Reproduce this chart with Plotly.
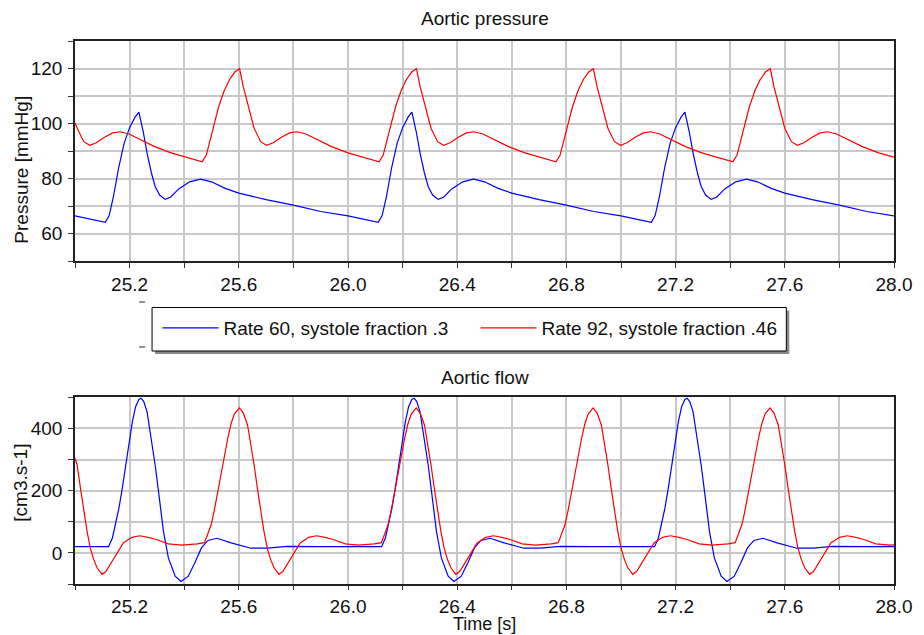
import plotly.graph_objects as go

# ---------------- data ----------------
series_names = ["Rate 60, systole fraction .3", "Rate 92, systole fraction .46"]

# Aortic pressure, rate 60 [mmHg]
p60_t = [25.000, 25.050, 25.111, 25.125, 25.140, 25.160, 25.180, 25.200, 25.220, 25.234,
         25.250, 25.264, 25.280, 25.294, 25.310, 25.330, 25.350, 25.380, 25.420, 25.460,
         25.500, 25.550, 25.600, 25.650, 25.700, 25.800, 25.900,
         26.000, 26.050, 26.111, 26.125, 26.140, 26.160, 26.180, 26.200, 26.220, 26.234,
         26.250, 26.264, 26.280, 26.294, 26.310, 26.330, 26.350, 26.380, 26.420, 26.460,
         26.500, 26.550, 26.600, 26.650, 26.700, 26.800, 26.900,
         27.000, 27.050, 27.111, 27.125, 27.140, 27.160, 27.180, 27.200, 27.220, 27.234,
         27.250, 27.264, 27.280, 27.294, 27.310, 27.330, 27.350, 27.380, 27.420, 27.460,
         27.500, 27.550, 27.600, 27.650, 27.700, 27.800, 27.900, 28.000]
p60_v = [66.4, 65.3, 64.1, 66.5, 73.0, 84.0, 92.8, 98.5, 102.3, 104.1,
         97.0, 89.2, 82.0, 77.0, 74.0, 72.4, 73.2, 76.2, 78.8, 79.8,
         78.8, 76.4, 74.7, 73.5, 72.3, 70.3, 68.0,
         66.4, 65.3, 64.1, 66.5, 73.0, 84.0, 92.8, 98.5, 102.3, 104.1,
         97.0, 89.2, 82.0, 77.0, 74.0, 72.4, 73.2, 76.2, 78.8, 79.8,
         78.8, 76.4, 74.7, 73.5, 72.3, 70.3, 68.0,
         66.4, 65.3, 64.1, 66.5, 73.0, 84.0, 92.8, 98.5, 102.3, 104.1,
         97.0, 89.2, 82.0, 77.0, 74.0, 72.4, 73.2, 76.2, 78.8, 79.8,
         78.8, 76.4, 74.7, 73.5, 72.3, 70.3, 68.0, 66.4]

# Aortic pressure, rate 92 [mmHg]
p92_t = [25.000, 25.008, 25.032, 25.054, 25.078, 25.108, 25.138, 25.165, 25.198, 25.238,
         25.292, 25.352, 25.418,
         25.466, 25.481, 25.496, 25.511, 25.526, 25.546, 25.566, 25.586, 25.603, 25.616,
         25.632, 25.646, 25.656, 25.680, 25.702, 25.726, 25.756, 25.786, 25.813, 25.846,
         25.886, 25.940, 26.000, 26.066,
         26.114, 26.129, 26.144, 26.159, 26.174, 26.194, 26.214, 26.234, 26.251, 26.264,
         26.280, 26.294, 26.304, 26.328, 26.350, 26.374, 26.404, 26.434, 26.461, 26.494,
         26.534, 26.588, 26.648, 26.714,
         26.762, 26.777, 26.792, 26.807, 26.822, 26.842, 26.862, 26.882, 26.899, 26.912,
         26.928, 26.942, 26.952, 26.976, 26.998, 27.022, 27.052, 27.082, 27.109, 27.142,
         27.182, 27.236, 27.296, 27.362,
         27.410, 27.425, 27.440, 27.455, 27.470, 27.490, 27.510, 27.530, 27.547, 27.560,
         27.576, 27.590, 27.600, 27.624, 27.646, 27.670, 27.700, 27.730, 27.757, 27.790,
         27.830, 27.884, 27.944, 28.000]
p92_v = [100.3, 98.3, 93.4, 92.1, 93.0, 95.0, 96.6, 97.0, 96.2, 94.3,
         91.6, 89.3, 87.6,
         86.1, 88.5, 94.0, 100.0, 106.0, 111.8, 116.0, 118.8, 119.9, 113.5,
         107.4, 101.5, 98.3, 93.4, 92.1, 93.0, 95.0, 96.6, 97.0, 96.2,
         94.3, 91.6, 89.3, 87.6,
         86.1, 88.5, 94.0, 100.0, 106.0, 111.8, 116.0, 118.8, 119.9, 113.5,
         107.4, 101.5, 98.3, 93.4, 92.1, 93.0, 95.0, 96.6, 97.0, 96.2,
         94.3, 91.6, 89.3, 87.6,
         86.1, 88.5, 94.0, 100.0, 106.0, 111.8, 116.0, 118.8, 119.9, 113.5,
         107.4, 101.5, 98.3, 93.4, 92.1, 93.0, 95.0, 96.6, 97.0, 96.2,
         94.3, 91.6, 89.3, 87.6,
         86.1, 88.5, 94.0, 100.0, 106.0, 111.8, 116.0, 118.8, 119.9, 113.5,
         107.4, 101.5, 98.3, 93.4, 92.1, 93.0, 95.0, 96.6, 97.0, 96.2,
         94.3, 91.6, 89.3, 87.8]

# Aortic flow, rate 60 [cm3/s]
q60_t = [25.000, 25.123, 25.137, 25.150, 25.161, 25.174, 25.186, 25.198, 25.210, 25.222,
         25.234, 25.242, 25.252, 25.264, 25.282, 25.294, 25.306, 25.324, 25.342, 25.367,
         25.388, 25.415, 25.439, 25.463, 25.487, 25.520, 25.572, 25.644, 25.705, 25.777, 25.900,
         26.000, 26.123, 26.137, 26.150, 26.161, 26.174, 26.186, 26.198, 26.210, 26.222,
         26.234, 26.242, 26.252, 26.264, 26.282, 26.294, 26.306, 26.324, 26.342, 26.367,
         26.388, 26.415, 26.439, 26.463, 26.487, 26.520, 26.572, 26.644, 26.705, 26.777, 26.900,
         27.000, 27.123, 27.137, 27.150, 27.161, 27.174, 27.186, 27.198, 27.210, 27.222,
         27.234, 27.242, 27.252, 27.264, 27.282, 27.294, 27.306, 27.324, 27.342, 27.367,
         27.388, 27.415, 27.439, 27.463, 27.487, 27.520, 27.572, 27.644, 27.705, 27.777, 27.900,
         28.000]
q60_v = [20, 20, 48, 95, 144, 212, 283, 355, 421, 470,
         493, 497, 486, 453, 357, 280, 197, 69, -16, -75,
         -92, -75, -32, 16, 40, 47, 32, 15, 15, 21, 20,
         20, 20, 48, 95, 144, 212, 283, 355, 421, 470,
         493, 497, 486, 453, 357, 280, 197, 69, -16, -75,
         -92, -75, -32, 16, 40, 47, 32, 15, 15, 21, 20,
         20, 20, 48, 95, 144, 212, 283, 355, 421, 470,
         493, 497, 486, 453, 357, 280, 197, 69, -16, -75,
         -92, -75, -32, 16, 40, 47, 32, 15, 15, 21, 20,
         20]

# Aortic flow, rate 92 [cm3/s]
q92_t = [25.000, 25.008, 25.020, 25.032, 25.044, 25.056, 25.068, 25.081, 25.099, 25.113,
         25.129, 25.153, 25.177, 25.208, 25.237, 25.268, 25.298, 25.342, 25.390, 25.448,
         25.466, 25.474, 25.486, 25.499, 25.511, 25.523, 25.536, 25.548, 25.560, 25.572,
         25.584, 25.602, 25.616, 25.632, 25.644, 25.656, 25.668, 25.680, 25.692, 25.704,
         25.716, 25.729, 25.747, 25.761, 25.777, 25.801, 25.825, 25.856, 25.885, 25.916,
         25.946, 25.990, 26.038, 26.096,
         26.114, 26.122, 26.134, 26.147, 26.159, 26.171, 26.184, 26.196, 26.208, 26.220,
         26.232, 26.250, 26.264, 26.280, 26.292, 26.304, 26.316, 26.328, 26.340, 26.352,
         26.364, 26.377, 26.395, 26.409, 26.425, 26.449, 26.473, 26.504, 26.533, 26.564,
         26.594, 26.638, 26.686, 26.744,
         26.762, 26.770, 26.782, 26.795, 26.807, 26.819, 26.832, 26.844, 26.856, 26.868,
         26.880, 26.898, 26.912, 26.928, 26.940, 26.952, 26.964, 26.976, 26.988, 27.000,
         27.012, 27.025, 27.043, 27.057, 27.073, 27.097, 27.121, 27.152, 27.181, 27.212,
         27.242, 27.286, 27.334, 27.392,
         27.410, 27.418, 27.430, 27.443, 27.455, 27.467, 27.480, 27.492, 27.504, 27.516,
         27.528, 27.546, 27.560, 27.576, 27.588, 27.600, 27.612, 27.624, 27.636, 27.648,
         27.660, 27.673, 27.691, 27.705, 27.721, 27.745, 27.769, 27.800, 27.829, 27.860,
         27.890, 27.934, 27.982, 28.000]
q92_v = [304, 283, 208, 133, 70, 16, -20, -48, -69, -60,
         -37, 0, 32, 50, 55, 50, 43, 29, 25, 29,
         31, 33, 60, 91, 140, 197, 255, 315, 370, 416,
         447, 466, 450, 411, 350, 283, 208, 133, 70, 16,
         -20, -48, -69, -60, -37, 0, 32, 50, 55, 50,
         43, 29, 25, 29,
         31, 33, 60, 91, 140, 197, 255, 315, 370, 416,
         447, 466, 450, 411, 350, 283, 208, 133, 70, 16,
         -20, -48, -69, -60, -37, 0, 32, 50, 55, 50,
         43, 29, 25, 29,
         31, 33, 60, 91, 140, 197, 255, 315, 370, 416,
         447, 466, 450, 411, 350, 283, 208, 133, 70, 16,
         -20, -48, -69, -60, -37, 0, 32, 50, 55, 50,
         43, 29, 25, 29,
         31, 33, 60, 91, 140, 197, 255, 315, 370, 416,
         447, 466, 450, 411, 350, 283, 208, 133, 70, 16,
         -20, -48, -69, -60, -37, 0, 32, 50, 55, 50,
         43, 29, 25, 26]

time_ticks = [25.0, 25.2, 25.4, 25.6, 25.8, 26.0, 26.2, 26.4, 26.6, 26.8,
              27.0, 27.2, 27.4, 27.6, 27.8, 28.0]
time_labels = ["", "25.2", "", "25.6", "", "26.0", "", "26.4", "", "26.8",
               "", "27.2", "", "27.6", "", "28.0"]
pressure_ticks = [50, 60, 70, 80, 90, 100, 110, 120, 130]
pressure_labels = ["", "60", "", "80", "", "100", "", "120", ""]
flow_ticks = [-100, 0, 100, 200, 300, 400, 500]
flow_labels = ["", "0", "", "200", "", "400", ""]

# ---------------- figure ----------------
BLUE = "#0000ff"
RED = "#ff0000"
FONT = "Liberation Sans, Arial, sans-serif"
W, H = 924, 635
ML, MR, MT, MB = 75, 20, 41, 51
PW, PH = W - ML - MR, H - MT - MB


def px_x(x):
    return (x - ML) / PW


def px_y(y):
    return (H - MB - y) / PH


fig = go.Figure()
fig.add_trace(go.Scatter(x=p60_t, y=p60_v, mode="lines", name=series_names[0],
                         line=dict(color=BLUE, width=1.2), xaxis="x", yaxis="y"))
fig.add_trace(go.Scatter(x=p92_t, y=p92_v, mode="lines", name=series_names[1],
                         line=dict(color=RED, width=1.2), xaxis="x", yaxis="y"))
fig.add_trace(go.Scatter(x=q60_t, y=q60_v, mode="lines", name=series_names[0],
                         line=dict(color=BLUE, width=1.2), xaxis="x2", yaxis="y2",
                         showlegend=False))
fig.add_trace(go.Scatter(x=q92_t, y=q92_v, mode="lines", name=series_names[1],
                         line=dict(color=RED, width=1.2), xaxis="x2", yaxis="y2",
                         showlegend=False))

axis_common = dict(
    showline=True, linecolor="#222222", linewidth=1.5, mirror=True,
    showgrid=True, gridcolor="#c8c8c8", gridwidth=1.5,
    ticks="outside", tickcolor="#333333", tickwidth=1,
    zeroline=False, tickfont=dict(family=FONT, size=19, color="#111111"),
)

top_lo = px_y(261)
bot_hi = px_y(397.3)

fig.update_layout(
    width=W, height=H,
    margin=dict(l=ML, r=MR, t=MT, b=MB),
    paper_bgcolor="white", plot_bgcolor="white",
    font=dict(family=FONT, size=19, color="#111111"),
    xaxis=dict(domain=[0, 1], anchor="y", range=[25.0, 28.0], ticklen=5,
               tickvals=time_ticks, ticktext=time_labels, **axis_common),
    yaxis=dict(domain=[top_lo, 1], anchor="x", range=[50, 130], ticklen=5,
               tickvals=pressure_ticks, ticktext=pressure_labels,
               ticklabelstandoff=2, **axis_common),
    xaxis2=dict(domain=[0, 1], anchor="y2", range=[25.0, 28.0], ticklen=4,
                tickvals=time_ticks, ticktext=time_labels, ticklabelstandoff=0,
                **axis_common),
    yaxis2=dict(domain=[0, bot_hi], anchor="x2", range=[-100, 500], ticklen=5,
                tickvals=flow_ticks, ticktext=flow_labels,
                ticklabelstandoff=2, **axis_common),
    legend=dict(orientation="h", x=px_x(158.5), y=px_y(309),
                xanchor="left", yanchor="top",
                bgcolor="rgba(0,0,0,0)", borderwidth=0,
                font=dict(family=FONT, size=19, color="#111111"),
                itemwidth=56, entrywidth=247, traceorder="normal"),
    showlegend=True,
)

annotations = [
    dict(text="Aortic pressure", x=0.5, y=px_y(18), yanchor="middle", size=19),
    dict(text="Aortic flow", x=0.5, y=px_y(377), yanchor="middle", size=19),
    dict(text="Time [s]", x=0.5, y=px_y(635), yanchor="bottom", size=18),
    dict(text="Pressure [mmHg]", x=px_x(21), y=px_y(170), yanchor="middle",
         textangle=-90, size=19),
    dict(text="[cm3.s-1]", x=px_x(19), y=px_y(483), yanchor="middle",
         textangle=-90, size=19),
]
for a in annotations:
    size = a.pop("size")
    fig.add_annotation(xref="paper", yref="paper", showarrow=False,
                       xanchor="center", borderpad=0,
                       font=dict(family=FONT, size=size, color="#111111"), **a)

# legend frame with its drop shadow, and the two small marks beside it
fig.add_shape(type="rect", xref="paper", yref="paper",
              x0=px_x(156), x1=px_x(798), y0=px_y(354), y1=px_y(310.5),
              fillcolor="#8a8a8a", line=dict(width=0), layer="above")
fig.add_shape(type="rect", xref="paper", yref="paper",
              x0=px_x(153), x1=px_x(795), y0=px_y(351), y1=px_y(307.5),
              fillcolor="white", line=dict(color="#000000", width=1), layer="above")
for yy in (302, 347):
    fig.add_shape(type="line", xref="paper", yref="paper",
                  x0=px_x(140), x1=px_x(146), y0=px_y(yy), y1=px_y(yy),
                  line=dict(color="#222222", width=1))

fig.write_html("out.html")
